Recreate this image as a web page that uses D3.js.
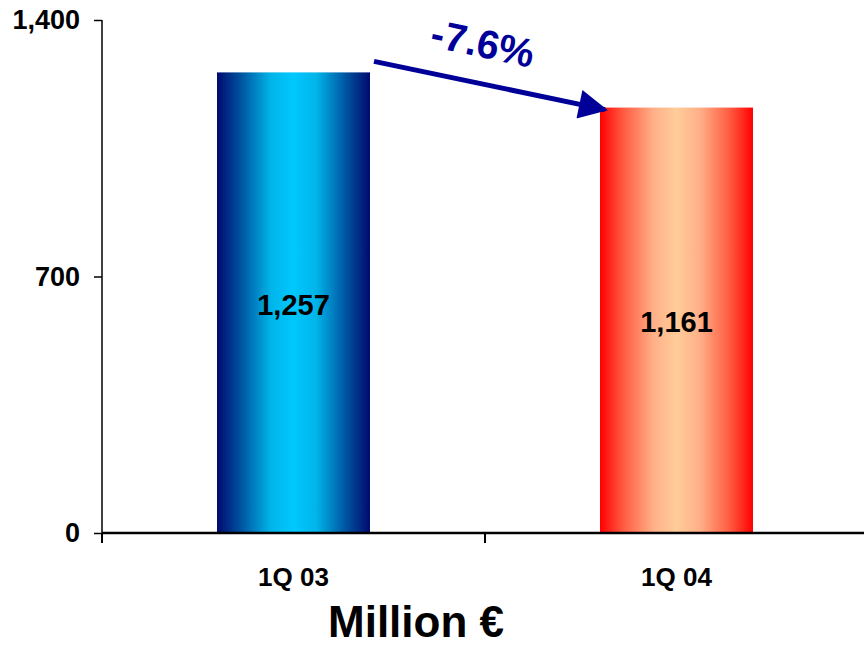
<!DOCTYPE html>
<html>
<head>
<meta charset="utf-8">
<script src="https://cdn.jsdelivr.net/npm/d3@7"></script>
<style>
html,body{margin:0;padding:0;background:#fff;}
svg{display:block;font-family:"Liberation Sans",Arial,sans-serif;}
</style>
</head>
<body>
<svg id="chart" width="864" height="648"></svg>
<script>
const categories = ["1Q 03", "1Q 04"];
const values = [1257, 1161];
const valueLabels = ["1,257", "1,161"];
const yTicks = [0, 700, 1400];
const changeLabel = "-7.6%";
const unitLabel = "Million €";

const svg = d3.select("#chart");
const W = 864, H = 648;
const x0 = 102, x1 = 868, yTop = 20, yBot = 533;
const FONT = "Liberation Sans, Arial, sans-serif";

const x = d3.scaleBand().domain(categories).range([x0, x1]).paddingInner(0).paddingOuter(0);
const y = d3.scaleLinear().domain([0, 1400]).range([yBot, yTop]);
const barW = 153;
const cx = c => x(c) + x.bandwidth() / 2;

const defs = svg.append("defs");
const grads = [
  {id: "gBlue", stops: [["0%", "#000a6e"], ["15%", "#00509e"], ["35%", "#00b4e8"], ["50%", "#00c8ff"], ["65%", "#00b4e8"], ["85%", "#00509e"], ["100%", "#000a6e"]]},
  {id: "gRed", stops: [["0%", "#ff0000"], ["15%", "#ff5a40"], ["35%", "#ffb088"], ["50%", "#ffcc99"], ["65%", "#ffb088"], ["85%", "#ff5a40"], ["100%", "#ff0000"]]}
];
grads.forEach(g => {
  const lg = defs.append("linearGradient").attr("id", g.id).attr("x1", "0%").attr("x2", "100%").attr("y1", "0%").attr("y2", "0%");
  g.stops.forEach(s => lg.append("stop").attr("offset", s[0]).attr("stop-color", s[1]));
});
defs.append("marker").attr("id", "arrowHead")
  .attr("viewBox", "0 0 10 10").attr("refX", 9).attr("refY", 5)
  .attr("markerUnits", "userSpaceOnUse")
  .attr("markerWidth", 33).attr("markerHeight", 29).attr("orient", "auto")
  .append("path").attr("d", "M0,0 L10,5 L0,10 Z").attr("fill", "#000099");

// bars
svg.selectAll("rect.bar").data(values).enter().append("rect")
  .attr("class", "bar")
  .attr("x", (d, i) => cx(categories[i]) - barW / 2)
  .attr("width", barW)
  .attr("y", d => y(d))
  .attr("height", d => y(0) - y(d))
  .attr("fill", (d, i) => i === 0 ? "url(#gBlue)" : "url(#gRed)");

// value labels
svg.selectAll("text.val").data(values).enter().append("text")
  .attr("class", "val")
  .attr("x", (d, i) => cx(categories[i]))
  .attr("y", d => y(d / 2) + 12)
  .attr("text-anchor", "middle")
  .attr("font-size", 29).attr("font-weight", "bold").attr("fill", "#000")
  .text((d, i) => valueLabels[i]);

// y axis
const yAxis = d3.axisLeft(y).tickValues(yTicks).tickSize(8).tickPadding(14)
  .tickFormat(d3.format(","));
const gy = svg.append("g").attr("transform", `translate(${x0},0)`).call(yAxis);
gy.attr("font-size", 27).attr("font-family", FONT);
gy.select(".domain").attr("stroke", "#000").attr("stroke-width", 1.5).attr("d", `M0,${yTop}V${yBot}`);
gy.selectAll(".tick line").attr("stroke", "#000").attr("stroke-width", 1.5);
gy.selectAll(".tick text").attr("font-size", 27).attr("font-weight", "bold").attr("fill", "#000")
  .attr("font-family", FONT);

// x axis
const xAxis = d3.axisBottom(x).tickSize(0).tickPadding(35);
const gx = svg.append("g").attr("transform", `translate(0,${yBot})`).call(xAxis);
gx.attr("font-size", 26).attr("font-family", FONT);
gx.select(".domain").attr("stroke", "#000").attr("stroke-width", 2.5).attr("d", `M${x0},0H${W}`);
gx.selectAll(".tick text").attr("font-size", 26).attr("font-weight", "bold").attr("fill", "#000")
  .attr("font-family", FONT);
// category boundary ticks
const bounds = [x0].concat(categories.slice(1).map(c => x(c)));
svg.selectAll("line.xt").data(bounds).enter().append("line")
  .attr("class", "xt")
  .attr("x1", d => d).attr("x2", d => d)
  .attr("y1", yBot).attr("y2", yBot + 10)
  .attr("stroke", "#000").attr("stroke-width", 2);

// change arrow
const b1Right = cx(categories[0]) + barW / 2;
const b2Left = cx(categories[1]) - barW / 2;
const ax1 = b1Right + 4, ay1 = y(values[0]) - 11;
const ax2 = b2Left + 5, ay2 = y(values[1]) + 2;
svg.append("line")
  .attr("x1", ax1).attr("y1", ay1).attr("x2", ax2).attr("y2", ay2)
  .attr("stroke", "#000099").attr("stroke-width", 5)
  .attr("marker-end", "url(#arrowHead)");

const ang = Math.atan2(ay2 - ay1, ax2 - ax1) * 180 / Math.PI;
svg.append("text")
  .attr("transform", `translate(480,57) rotate(${ang})`)
  .attr("text-anchor", "middle")
  .attr("font-size", 40).attr("font-weight", "bold").attr("fill", "#000099")
  .text(changeLabel);

// unit label
svg.append("text")
  .attr("x", 416).attr("y", 637)
  .attr("text-anchor", "middle")
  .attr("font-size", 44).attr("font-weight", "bold").attr("fill", "#000")
  .text(unitLabel);
</script>
</body>
</html>
